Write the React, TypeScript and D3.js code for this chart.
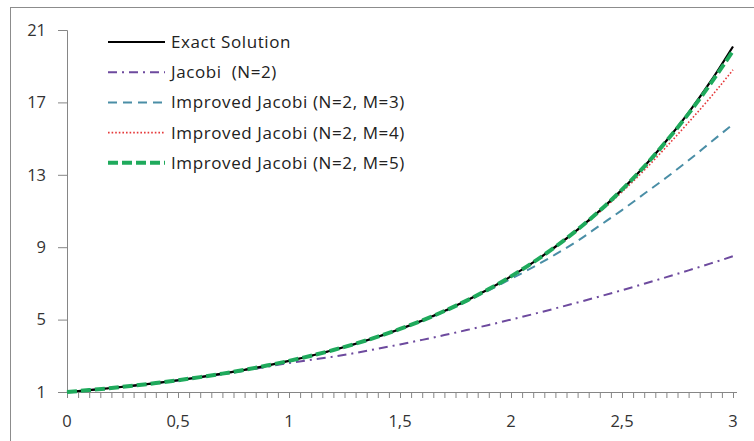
import React, { useEffect, useRef } from "react";
import * as d3 from "d3";

// x positions of the computed points
const xValues = [
  0, 0.1, 0.2, 0.3, 0.4, 0.5, 0.6, 0.7, 0.8, 0.9, 1, 1.1, 1.2, 1.3, 1.4, 1.5,
  1.6, 1.7, 1.8, 1.9, 2, 2.1, 2.2, 2.3, 2.4, 2.5, 2.6, 2.7, 2.8, 2.9, 3,
];

const exactValues = [
  1, 1.105, 1.221, 1.35, 1.492, 1.649, 1.822, 2.014, 2.226, 2.46, 2.718, 3.004,
  3.32, 3.669, 4.055, 4.482, 4.953, 5.474, 6.05, 6.686, 7.389, 8.166, 9.025,
  9.974, 11.02, 12.18, 13.46, 14.88, 16.44, 18.17, 20.09,
];

const jacobiValues = [
  1, 1.105, 1.221, 1.349, 1.488, 1.64, 1.805, 1.985, 2.18, 2.39, 2.6, 2.78,
  2.95, 3.16, 3.39, 3.63, 3.88, 4.145, 4.42, 4.705, 5, 5.305, 5.62, 5.945,
  6.28, 6.625, 6.98, 7.345, 7.72, 8.105, 8.5,
];

const improvedM3Values = [
  1, 1.105, 1.221, 1.35, 1.492, 1.648, 1.821, 2.012, 2.223, 2.455, 2.71, 2.995,
  3.31, 3.655, 4.04, 4.46, 4.93, 5.44, 6.01, 6.62, 7.25, 7.9, 8.6, 9.35, 10.2,
  11.05, 11.95, 12.85, 13.8, 14.8, 15.8,
];

const improvedM4Values = [
  1, 1.105, 1.221, 1.35, 1.492, 1.649, 1.822, 2.014, 2.226, 2.46, 2.718, 3.004,
  3.32, 3.669, 4.055, 4.482, 4.953, 5.474, 6.05, 6.686, 7.385, 8.16, 9.01,
  9.95, 10.95, 12.05, 13.25, 14.55, 15.9, 17.3, 18.8,
];

const improvedM5Values = [
  1, 1.105, 1.221, 1.35, 1.492, 1.649, 1.822, 2.014, 2.226, 2.46, 2.718, 3.004,
  3.32, 3.669, 4.055, 4.482, 4.953, 5.474, 6.05, 6.686, 7.389, 8.166, 9.025,
  9.974, 11.02, 12.18, 13.45, 14.86, 16.38, 18.05, 19.85,
];

const seriesNames = [
  "Exact Solution",
  "Jacobi  (N=2)",
  "Improved Jacobi (N=2, M=3)",
  "Improved Jacobi (N=2, M=4)",
  "Improved Jacobi (N=2, M=5)",
];

const yTickValues = [1, 5, 9, 13, 17, 21];
const xLabelValues = [0, 0.5, 1, 1.5, 2, 2.5, 3];

const App = () => {
  const svgRef = useRef<SVGSVGElement>(null);

  useEffect(() => {
    const width = 754;
    const height = 441;
    const font = "'Open Sans', sans-serif";
    const fontSize = 16.5;

    const svg = d3.select(svgRef.current).attr("width", width).attr("height", height);
    svg.selectAll("*").remove();

    svg.append("rect").attr("width", width).attr("height", height).attr("fill", "#fff");
    svg
      .append("rect")
      .attr("x", 10.5)
      .attr("y", 7.5)
      .attr("width", 746)
      .attr("height", 440)
      .attr("fill", "none")
      .attr("stroke", "#8c8c8c");

    const x = d3.scaleLinear().domain([0, 3]).range([67, 733]);
    const y = d3.scaleLinear().domain([1, 21]).range([392, 30]);

    const axisColor = "#868686";

    // y axis
    const yAxis = d3.axisLeft<number>(y).tickValues(yTickValues).tickSize(9).tickPadding(12);
    const gy = svg.append("g").attr("transform", "translate(67,0)").call(yAxis);
    gy.select(".domain").attr("stroke", axisColor);
    gy.selectAll(".tick line").attr("stroke", axisColor);
    gy.selectAll(".tick text")
      .attr("fill", "#333")
      .attr("font-family", font)
      .attr("font-size", fontSize);

    // x axis: minor ticks every 0.05, labels every 0.5
    const minorTicks = d3.range(0, 61).map((i) => i / 20);
    const xAxis = d3
      .axisBottom<number>(x)
      .tickValues(minorTicks)
      .tickSize(6)
      .tickSizeOuter(0)
      .tickFormat(() => "");
    const gx = svg.append("g").attr("transform", "translate(0,392)").call(xAxis);
    gx.select(".domain").attr("stroke", axisColor).attr("d", "M67,0.5H737");
    gx.selectAll(".tick line").attr("stroke", axisColor);

    svg
      .append("g")
      .selectAll("text")
      .data(xLabelValues)
      .join("text")
      .attr("x", (d) => x(d))
      .attr("y", 427)
      .attr("text-anchor", "middle")
      .attr("fill", "#333")
      .attr("font-family", font)
      .attr("font-size", fontSize)
      .text((d) => String(d).replace(".", ","));

    const styles = [
      { color: "#000000", width: 2.2, dash: "" },
      { color: "#6d4a9e", width: 2, dash: "9,5,2,5" },
      { color: "#4a8ea6", width: 2, dash: "9,6" },
      { color: "#e5393a", width: 1.6, dash: "1.6,2" },
      { color: "#1faa5c", width: 4, dash: "10,4" },
    ];
    const allSeries = [exactValues, jacobiValues, improvedM3Values, improvedM4Values, improvedM5Values];

    const line = d3
      .line<number>()
      .x((_, i) => x(xValues[i]))
      .y((d) => y(d))
      .curve(d3.curveMonotoneX);

    // draw back to front so the exact solution sits under the green one like in the picture
    const order = [1, 2, 3, 0, 4];
    order.forEach((k) => {
      svg
        .append("path")
        .datum(allSeries[k])
        .attr("fill", "none")
        .attr("stroke", styles[k].color)
        .attr("stroke-width", styles[k].width)
        .attr("stroke-dasharray", styles[k].dash || null)
        .attr("d", line);
    });

    // legend
    const legend = svg.append("g").attr("transform", "translate(108,42)");
    seriesNames.forEach((name, i) => {
      const row = legend.append("g").attr("transform", `translate(0,${i * 30.2})`);
      row
        .append("line")
        .attr("x1", 0)
        .attr("x2", 57)
        .attr("stroke", styles[i].color)
        .attr("stroke-width", styles[i].width)
        .attr("stroke-dasharray", styles[i].dash || null);
      row
        .append("text")
        .attr("x", 63)
        .attr("dy", "0.35em")
        .attr("fill", "#222")
        .attr("font-family", font)
        .attr("font-size", 17)
        .attr("letter-spacing", 0.6)
        .style("white-space", "pre")
        .text(name);
    });
  }, []);

  return (
    <div style={{ position: "absolute", left: 0, top: 0 }}>
      <svg ref={svgRef}></svg>
    </div>
  );
};
export default App;
